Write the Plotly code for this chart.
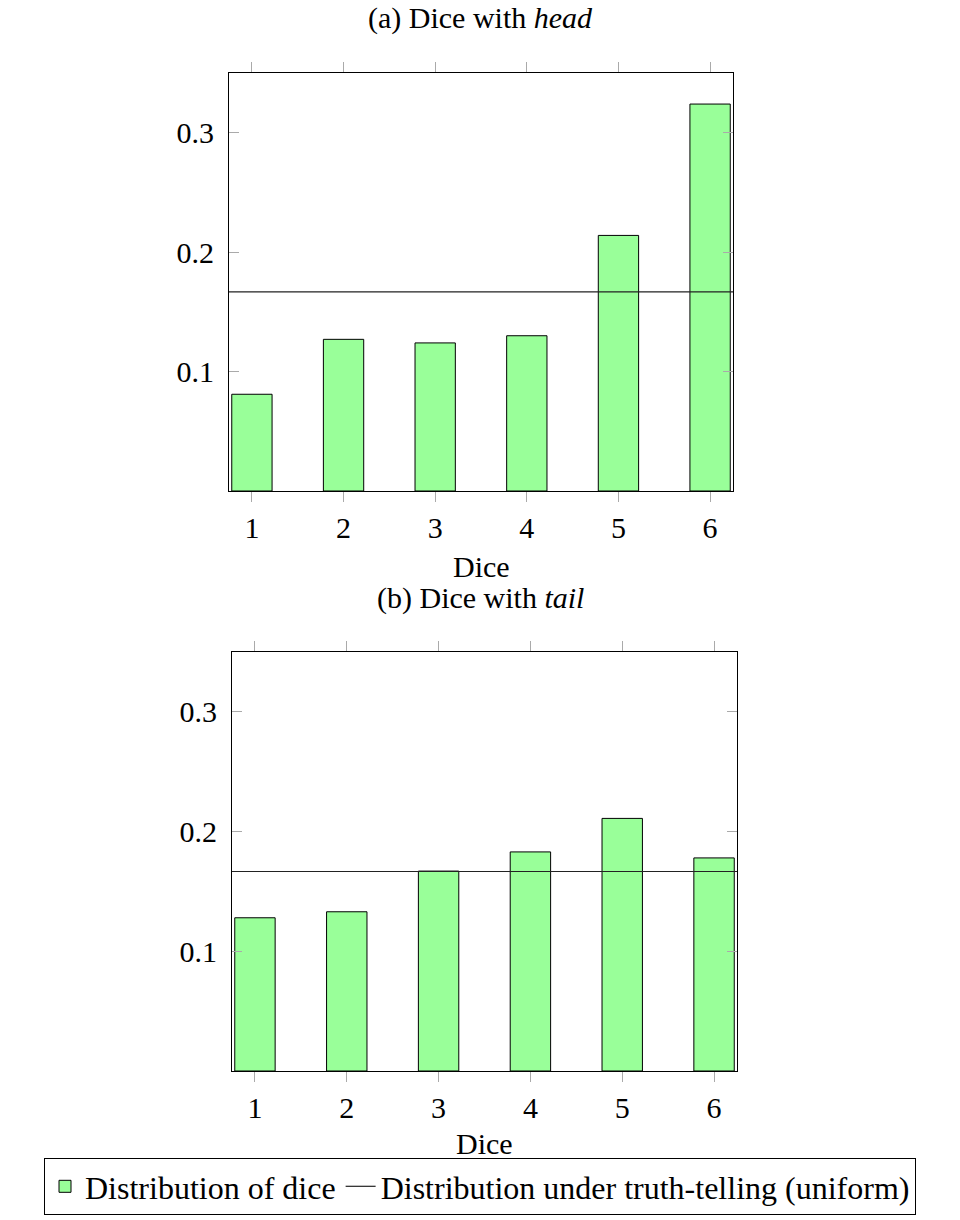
import plotly.graph_objects as go

dice = [1, 2, 3, 4, 5, 6]
head_probs = [0.081, 0.127, 0.124, 0.130, 0.214, 0.324]
tail_probs = [0.128, 0.133, 0.167, 0.183, 0.211, 0.178]
uniform_value = 1 / 6
x_range = [0.75, 6.25]
y_range = [0, 0.35]
y_ticks = [0.1, 0.2, 0.3]
y_ticklabels = ["0.1", "0.2", "0.3"]

W, H = 960, 1220
FONT = "Liberation Serif"
FS = 30
BAR_FILL = "#99ff99"

fig = go.Figure()

for i, (probs, show) in enumerate([(head_probs, True), (tail_probs, False)]):
    xa = "x" if i == 0 else "x2"
    ya = "y" if i == 0 else "y2"
    fig.add_trace(go.Bar(
        x=dice, y=probs, width=0.44,
        marker=dict(color=BAR_FILL, line=dict(color="black", width=1)),
        name="Distribution of dice", showlegend=show,
        xaxis=xa, yaxis=ya,
    ))
    fig.add_trace(go.Scatter(
        x=x_range, y=[uniform_value, uniform_value], mode="lines",
        line=dict(color="#222222", width=1.2),
        name="Distribution under truth-telling (uniform)", showlegend=show,
        xaxis=xa, yaxis=ya,
    ))

def px_dom_x(a, b):
    return [a / W, b / W]

def px_dom_y(top, bottom):
    return [1 - bottom / H, 1 - top / H]

xcommon = dict(range=x_range, tickvals=dice, ticktext=[str(d) for d in dice],
               showgrid=False, zeroline=False, showline=True, linecolor="black",
               linewidth=1, mirror="ticks", ticks="outside", ticklen=10,
               tickcolor="#aaaaaa", tickwidth=1,
               tickfont=dict(family=FONT, size=FS, color="black"))
ycommon = dict(range=y_range, tickvals=y_ticks, ticktext=y_ticklabels,
               showgrid=False, zeroline=False, showline=True, linecolor="black",
               linewidth=1, mirror="ticks", ticks="inside", ticklen=10,
               tickcolor="#aaaaaa", tickwidth=1, ticklabelstandoff=8,
               tickfont=dict(family=FONT, size=FS, color="black"))

def label(text, x, y):
    return dict(text=text, x=x / W, y=1 - y / H, xref="paper", yref="paper",
                xanchor="center", yanchor="middle", showarrow=False,
                font=dict(family=FONT, size=FS, color="black"))

fig.update_layout(
    width=W, height=H,
    margin=dict(l=0, r=0, t=0, b=0),
    paper_bgcolor="white", plot_bgcolor="white",
    font=dict(family=FONT, color="black"),
    barmode="overlay",
    xaxis=dict(domain=px_dom_x(229, 733), anchor="y", **xcommon),
    yaxis=dict(domain=px_dom_y(73, 491), anchor="x", **ycommon),
    xaxis2=dict(domain=px_dom_x(232, 737), anchor="y2", **xcommon),
    yaxis2=dict(domain=px_dom_y(652, 1071), anchor="x2", **ycommon),
    legend=dict(orientation="h", x=0.5, xanchor="center", y=1 - 1158 / H,
                yanchor="top", bordercolor="black", borderwidth=1,
                font=dict(family=FONT, size=32, color="black"),
                tracegroupgap=0, itemwidth=30),
    annotations=[
        label("(a) Dice with <i>head</i>", 480, 18),
        label("Dice", 481, 566),
        label("(b) Dice with <i>tail</i>", 480, 598),
        label("Dice", 484, 1143),
    ],
)

fig.write_html("out.html", config={"displayModeBar": False},
               post_script="document.body.style.margin='0';")
